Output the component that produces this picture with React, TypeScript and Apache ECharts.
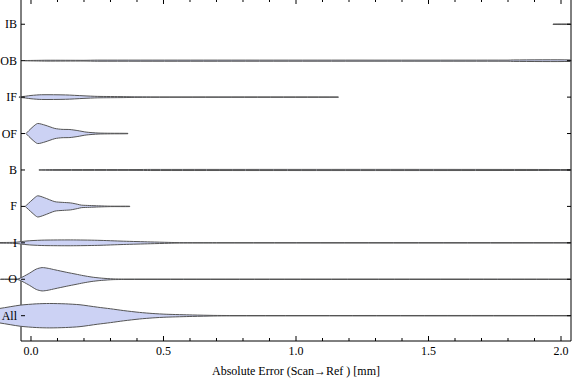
import React, { useEffect, useRef } from "react";
import * as echarts from "echarts";

// Categories from bottom to top
const categories = ["All", "O", "I", "F", "B", "OF", "IF", "OB", "IB"];

// Violin profiles: [absolute error (mm), half width (fraction of row spacing)]
const profileAll = [[-0.2, 0.12], [-0.117, 0.2], [-0.04, 0.29], [0.02, 0.325], [0.07, 0.335], [0.13, 0.325], [0.185, 0.3], [0.25, 0.235], [0.3, 0.19], [0.35, 0.14], [0.41, 0.09], [0.46, 0.06], [0.51, 0.04], [0.61, 0.02], [0.69, 0.008], [0.75, 0.005], [2.037, 0.005]];
const profileO = [[-0.115, 0.005], [-0.05, 0.008], [-0.03, 0.07], [-0.005, 0.17], [0.02, 0.28], [0.042, 0.32], [0.065, 0.3], [0.09, 0.26], [0.135, 0.19], [0.17, 0.14], [0.197, 0.1], [0.23, 0.06], [0.26, 0.035], [0.29, 0.018], [0.31, 0.01], [0.35, 0.006], [2.037, 0.005]];
const profileI = [[-0.15, 0.005], [-0.06, 0.015], [-0.03, 0.04], [0.0, 0.06], [0.05, 0.075], [0.15, 0.08], [0.25, 0.07], [0.35, 0.045], [0.45, 0.025], [0.52, 0.012], [0.56, 0.006], [0.7, 0.005], [2.037, 0.005]];
const profileF = [[-0.022, 0], [-0.01, 0.08], [0.008, 0.2], [0.025, 0.29], [0.05, 0.24], [0.09, 0.13], [0.12, 0.11], [0.15, 0.095], [0.175, 0.06], [0.19, 0.035], [0.22, 0.025], [0.255, 0.015], [0.3, 0.006], [0.373, 0.005]];
const profileB = [[0.03, 0.003], [0.08, 0.01], [0.4, 0.012], [0.45, 0.015], [2.037, 0.012]];
const profileOF = [[-0.019, 0], [-0.008, 0.08], [0.008, 0.19], [0.025, 0.275], [0.053, 0.23], [0.09, 0.14], [0.117, 0.115], [0.147, 0.11], [0.177, 0.08], [0.208, 0.04], [0.253, 0.014], [0.3, 0.008], [0.366, 0.005]];
const profileIF = [[-0.045, 0.005], [-0.02, 0.025], [0.0, 0.045], [0.04, 0.065], [0.13, 0.06], [0.2, 0.035], [0.25, 0.02], [0.35, 0.013], [0.39, 0.008], [0.45, 0.005], [1.16, 0.005]];
const profileOB = [[-0.023, 0.003], [0.02, 0.008], [0.06, 0.012], [0.2, 0.01], [0.25, 0.015], [1.8, 0.015], [1.82, 0.02], [2.037, 0.02]];
const profileIB = [[1.97, 0.006], [2.037, 0.006]];

const profiles = [profileAll, profileO, profileI, profileF, profileB, profileOF, profileIF, profileOB, profileIB];

const majorTicks = [0, 0.5, 1, 1.5, 2];
const majorTickLabels = ["0.0", "0.5", "1.0", "1.5", "2.0"];
const minorTicks = [0.1, 0.2, 0.3, 0.4, 0.6, 0.7, 0.8, 0.9, 1.1, 1.2, 1.3, 1.4, 1.6, 1.7, 1.8, 1.9];

const X_MIN = -0.0377;
const X_MAX = 2.0377;
const Y_MIN = 0.3055;
const Y_MAX = 9.693;

const FONT = "'Liberation Serif', 'Times New Roman', serif";
const FILL = "rgb(204,210,244)";
const STROKE = "#555";

export default function App() {
  const ref = useRef<HTMLDivElement>(null);
  useEffect(() => {
    if (!ref.current) return;
    const chart = echarts.init(ref.current, undefined, { renderer: "svg" });
    const option: any = {
      animation: false,
      grid: {
        left: 21, right: 5, top: -1, bottom: 40,
        containLabel: false, outerBoundsMode: "none",
        show: true, borderColor: "#000", borderWidth: 1, backgroundColor: "transparent",
      },
      xAxis: {
        type: "value",
        min: X_MIN,
        max: X_MAX,
        axisLine: { show: false },
        axisTick: { show: false },
        axisLabel: { show: false },
        splitLine: { show: false },
        name: "Absolute Error (Scan\u2192Ref ) [mm]",
        nameLocation: "middle",
        nameGap: 24,
        nameTextStyle: { fontFamily: FONT, fontSize: 12, color: "#000" },
      },
      yAxis: {
        type: "value",
        min: Y_MIN,
        max: Y_MAX,
        axisLine: { show: false },
        axisTick: { show: false },
        axisLabel: { show: false },
        splitLine: { show: false },
      },
      series: [
        {
          type: "custom",
          coordinateSystem: "cartesian2d",
          silent: true,
          clip: false,
          data: categories.map((_, i) => [i]),
          renderItem: (_params: any, api: any) => {
            const idx = api.value(0);
            const prof = profiles[idx];
            const yc = idx + 1;
            const upper = prof.map(([x, w]) => api.coord([x, yc + w]));
            const lower = prof.map(([x, w]) => api.coord([x, yc - w])).reverse();
            return {
              type: "polygon",
              shape: { points: upper.concat(lower), smooth: 0.25 },
              style: { fill: FILL, stroke: STROKE, lineWidth: 1 },
            };
          },
        },
        {
          type: "custom",
          coordinateSystem: "cartesian2d",
          silent: true,
          clip: false,
          data: categories.map((_, i) => [i]),
          renderItem: (_params: any, api: any) => {
            const idx = api.value(0);
            const l = api.coord([X_MIN, idx + 1]);
            const r = api.coord([X_MAX, idx + 1]);
            return {
              type: "group",
              children: [
                { type: "line", shape: { x1: l[0], y1: l[1], x2: l[0] + 4, y2: l[1] }, style: { stroke: "#000", lineWidth: 1 } },
                { type: "line", shape: { x1: r[0], y1: r[1], x2: r[0] - 4, y2: r[1] }, style: { stroke: "#000", lineWidth: 1 } },
                {
                  type: "text",
                  style: { text: categories[idx], x: l[0] - 4, y: l[1], align: "right", verticalAlign: "middle", fontFamily: FONT, fontSize: 12, fill: "#000" },
                },
              ],
            };
          },
        },
        {
          type: "custom",
          coordinateSystem: "cartesian2d",
          silent: true,
          clip: false,
          data: majorTicks.map((v, i) => [v, i]),
          renderItem: (_params: any, api: any) => {
            const v = api.value(0);
            const i = api.value(1);
            const b = api.coord([v, Y_MIN]);
            const t = api.coord([v, Y_MAX]);
            return {
              type: "group",
              children: [
                { type: "line", shape: { x1: b[0], y1: b[1], x2: b[0], y2: b[1] - 5 }, style: { stroke: "#000", lineWidth: 1 } },
                { type: "line", shape: { x1: t[0], y1: t[1], x2: t[0], y2: t[1] + 5 }, style: { stroke: "#000", lineWidth: 1 } },
                {
                  type: "text",
                  style: { text: majorTickLabels[i], x: b[0], y: b[1] + 10, align: "center", verticalAlign: "middle", fontFamily: FONT, fontSize: 12, fill: "#000" },
                },
              ],
            };
          },
        },
        {
          type: "custom",
          coordinateSystem: "cartesian2d",
          silent: true,
          clip: false,
          data: minorTicks.map((v) => [v]),
          renderItem: (_params: any, api: any) => {
            const v = api.value(0);
            const b = api.coord([v, Y_MIN]);
            const t = api.coord([v, Y_MAX]);
            return {
              type: "group",
              children: [
                { type: "line", shape: { x1: b[0], y1: b[1], x2: b[0], y2: b[1] - 3 }, style: { stroke: "#000", lineWidth: 1 } },
                { type: "line", shape: { x1: t[0], y1: t[1], x2: t[0], y2: t[1] + 3 }, style: { stroke: "#000", lineWidth: 1 } },
              ],
            };
          },
        },
      ],
    };
    chart.setOption(option);
    return () => chart.dispose();
  }, []);
  return <div ref={ref} style={{ width: 576, height: 381, position: "absolute", left: 0, top: 0 }} />;
}
